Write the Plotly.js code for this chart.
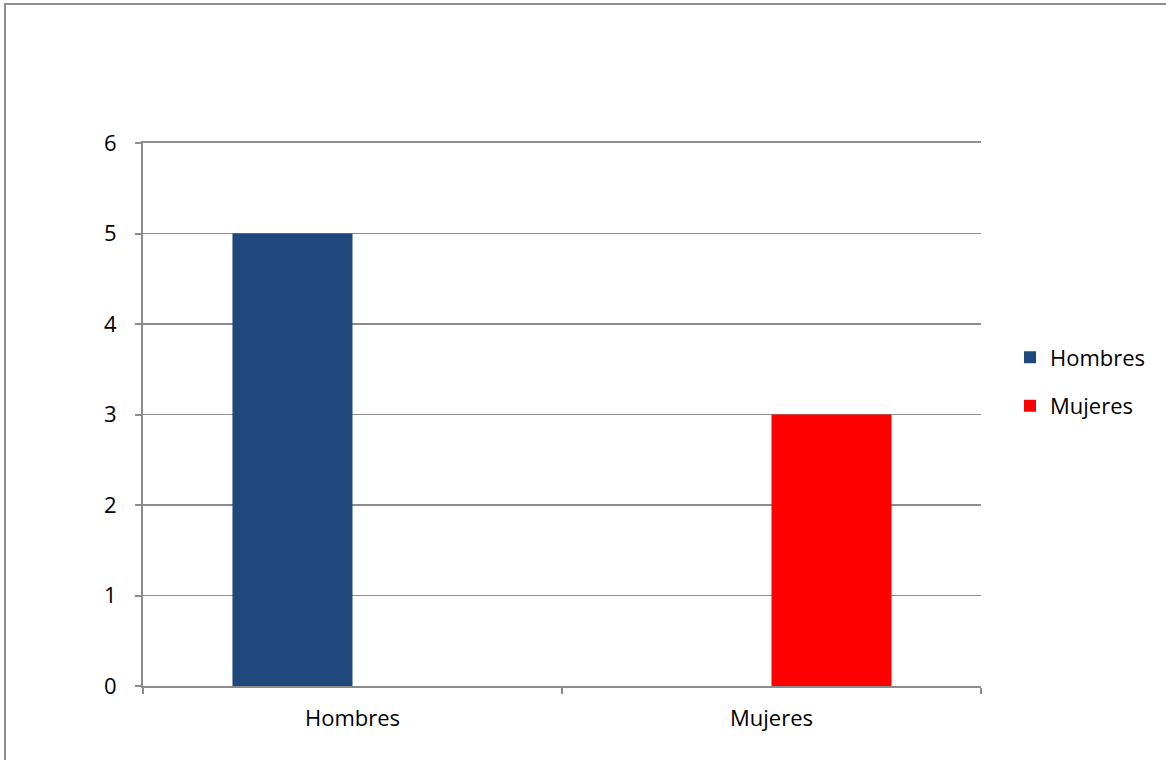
<!DOCTYPE html>
<html><head><meta charset="utf-8">
<script src="https://cdn.plot.ly/plotly-3.0.1.min.js"></script>
<style>
html,body{margin:0;padding:0;background:#fff;}
#wrap{position:relative;width:1166px;height:760px;overflow:hidden;}
#chart{width:1166px;height:760px;}
#frame{position:absolute;left:4px;top:3px;width:1300px;height:900px;border:2px solid #8e8e8e;box-sizing:border-box;pointer-events:none;}
</style></head>
<body><div id="wrap"><div id="chart"></div><div id="frame"></div></div>
<script>
const categories = ["Hombres", "Mujeres"];
const hombresValues = [5, null];
const mujeresValues = [null, 3];
const yTicks = [0, 1, 2, 3, 4, 5, 6];

const font = {family: "Open Sans, Liberation Sans, sans-serif", size: 22, color: "#000"};
const data = [
  {type: "bar", name: "Hombres", x: categories, y: hombresValues, marker: {color: "#1f497d"}, legendgroup: "h", hoverinfo: "none"},
  {type: "bar", name: "Mujeres", x: categories, y: mujeresValues, marker: {color: "#ff0000"}, legendgroup: "m", hoverinfo: "none"}
];
const layout = {
  width: 1166, height: 760,
  margin: {l: 143, r: 185, t: 143, b: 74, pad: 0},
  paper_bgcolor: "#fff", plot_bgcolor: "#fff",
  font: font,
  barmode: "group", bargap: 0.427, bargroupgap: 0,
  showlegend: true,
  legend: {x: 1.0346, xanchor: "left", y: 0.56, yanchor: "middle", font: font, traceorder: "grouped", tracegroupgap: 17, itemwidth: 30},
  xaxis: {type: "category", showgrid: false, showline: true, mirror: true, linecolor: "#8c8c8c", linewidth: 2,
          ticks: "outside", tickson: "boundaries", ticklen: 6, tickcolor: "#8c8c8c", tickwidth: 2, tickfont: font, zeroline: false,
          ticklabelstandoff: 12},
  yaxis: {range: [0, 6], tickvals: yTicks, showgrid: true, gridcolor: "#8c8c8c", gridwidth: 1.5,
          showline: true, linecolor: "#8c8c8c", linewidth: 2, ticks: "outside", ticklen: 6, tickcolor: "#8c8c8c", tickwidth: 2,
          tickfont: font, zeroline: false, ticklabelstandoff: 14}
};
Plotly.newPlot("chart", data, layout, {displayModeBar: false, staticPlot: true});
</script></body></html>
